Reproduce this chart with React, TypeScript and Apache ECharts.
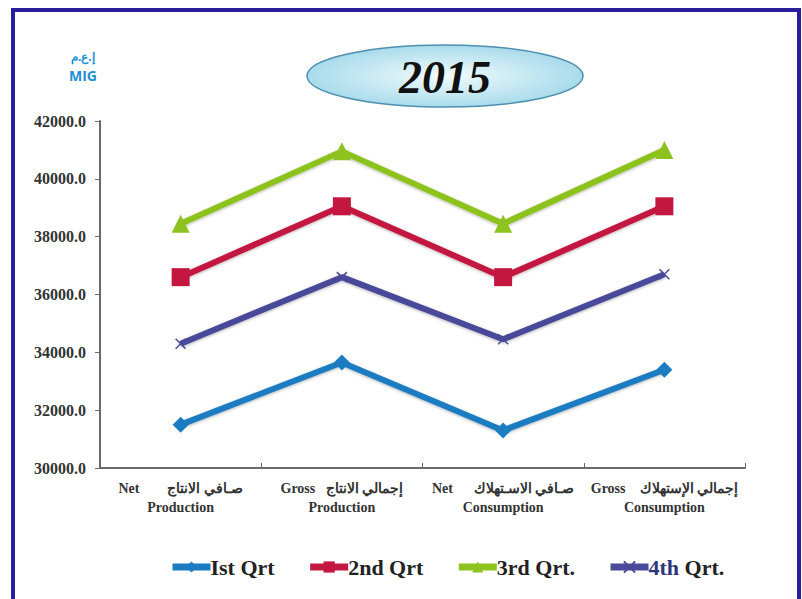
import React, { useEffect, useRef } from "react";
import * as echarts from "echarts";

const categories = [
  "Net        صـافي الانتاج\nProduction",
  "Gross   إجمالي الانتاج\nProduction",
  "Net      صـافي الاسـتهلاك\nConsumption",
  "Gross    إجمالي الإستهلاك\nConsumption",
];
const seriesNames = ["Ist Qrt", "2nd Qrt", "3rd Qrt.", "4th Qrt."];
const q1 = [31500, 33650, 31300, 33400];
const q2 = [36600, 39050, 36600, 39050];
const q3 = [38450, 40950, 38450, 41000];
const q4 = [34300, 36600, 34450, 36700];
const yMin = 30000;
const yMax = 42000;
const yInterval = 2000;

export default function App() {
  const ref = useRef<HTMLDivElement>(null);
  useEffect(() => {
    if (!ref.current) return;
    const chart = echarts.init(ref.current, null, { renderer: "svg" });
    const font = "Liberation Serif";
    const colors = ["#1c7cc2", "#c3173f", "#8dc21f", "#4a4a9a"];
    const symbols = ["diamond", "rect", "triangle", "path://M0,0L10,10M10,0L0,10"];
    const sizes = [16, 18, 18, 10];
    const data = [q1, q2, q3, q4];
    chart.setOption({
      animation: false,
      backgroundColor: "#ffffff",
      grid: { left: 100, right: 57, top: 121, bottom: 131, containLabel: false },
      xAxis: {
        type: "category",
        data: categories,
        boundaryGap: true,
        axisLine: { lineStyle: { color: "#6a6a6a", width: 2 } },
        axisTick: { show: true, inside: true, length: 5, lineStyle: { color: "#6a6a6a" } },
        axisLabel: {
          interval: 0,
          fontFamily: font,
          fontWeight: "bold",
          fontSize: 14,
          color: "#333",
          lineHeight: 19,
          margin: 11,
        },
      },
      yAxis: {
        type: "value",
        min: yMin,
        max: yMax,
        interval: yInterval,
        splitLine: { show: false },
        axisLine: { show: true, lineStyle: { color: "#6a6a6a", width: 2 } },
        axisTick: { show: true, length: 5, lineStyle: { color: "#6a6a6a" } },
        axisLabel: {
          fontFamily: font,
          fontWeight: "bold",
          fontSize: 16,
          color: "#333",
          margin: 14,
          formatter: (v: number) => v.toFixed(1),
        },
      },
      legend: {
        left: 164,
        top: 551,
        itemWidth: 38,
        itemHeight: 14,
        itemGap: 32,
        data: seriesNames,
        lineStyle: { width: 7 },
        formatter: (n: string) => (n === "4th Qrt." ? "{a|4th} Qrt." : n),
        textStyle: {
          fontFamily: font,
          fontWeight: "bold",
          fontSize: 22,
          color: "#222",
          padding: [0, 0, 0, -5],
          rich: {
            a: { fontFamily: font, fontWeight: "bold", fontSize: 22, color: "#2e3480" },
          },
        },
      },
      series: data.map((d, i) => ({
        name: seriesNames[i],
        type: "line",
        data: d,
        symbol: symbols[i],
        symbolSize: sizes[i],
        lineStyle: {
          width: 6,
          color: colors[i],
          shadowBlur: 3,
          shadowColor: "rgba(0,0,0,0.3)",
          shadowOffsetY: 1,
        },
        itemStyle: {
          color: colors[i],
          borderColor: i === 3 ? colors[i] : undefined,
          borderWidth: i === 3 ? 1.5 : 0,
        },
        emphasis: { disabled: true },
      })),
      graphic: [
        {
          type: "rect",
          shape: { x: 13, y: 10, width: 786, height: 620 },
          style: { fill: "none", stroke: "#2a1e9c", lineWidth: 4 },
          silent: true,
        },
        {
          type: "ellipse",
          shape: { cx: 445, cy: 76, rx: 138, ry: 31 },
          style: {
            fill: {
              type: "radial",
              x: 0.5,
              y: 0.5,
              r: 0.6,
              colorStops: [
                { offset: 0, color: "#f2fbfd" },
                { offset: 1, color: "#9ad5e8" },
              ],
            },
            stroke: "#4e8fb0",
            lineWidth: 1.5,
          },
          silent: true,
        },
        {
          type: "text",
          x: 445,
          y: 77,
          style: {
            text: "2015",
            fontFamily: font,
            fontStyle: "italic",
            fontWeight: "bold",
            fontSize: 46,
            fill: "#111",
            align: "center",
            verticalAlign: "middle",
          },
          silent: true,
        },
        {
          type: "text",
          x: 71,
          y: 56,
          style: {
            text: "إ.ع.م",
            fontFamily: "Noto Sans",
            fontWeight: "bold",
            fontSize: 12,
            fill: "#1e8fd6",
            align: "left",
            verticalAlign: "middle",
          },
          silent: true,
        },
        {
          type: "text",
          x: 69,
          y: 75,
          style: {
            text: "MIG",
            fontFamily: "Open Sans",
            fontWeight: "bold",
            fontSize: 14,
            fill: "#1e8fd6",
            align: "left",
            verticalAlign: "middle",
          },
          silent: true,
        },
      ],
    });
    return () => chart.dispose();
  }, []);
  return (
    <div
      ref={ref}
      style={{ position: "fixed", left: 0, top: 0, width: 802, height: 599 }}
    />
  );
}
